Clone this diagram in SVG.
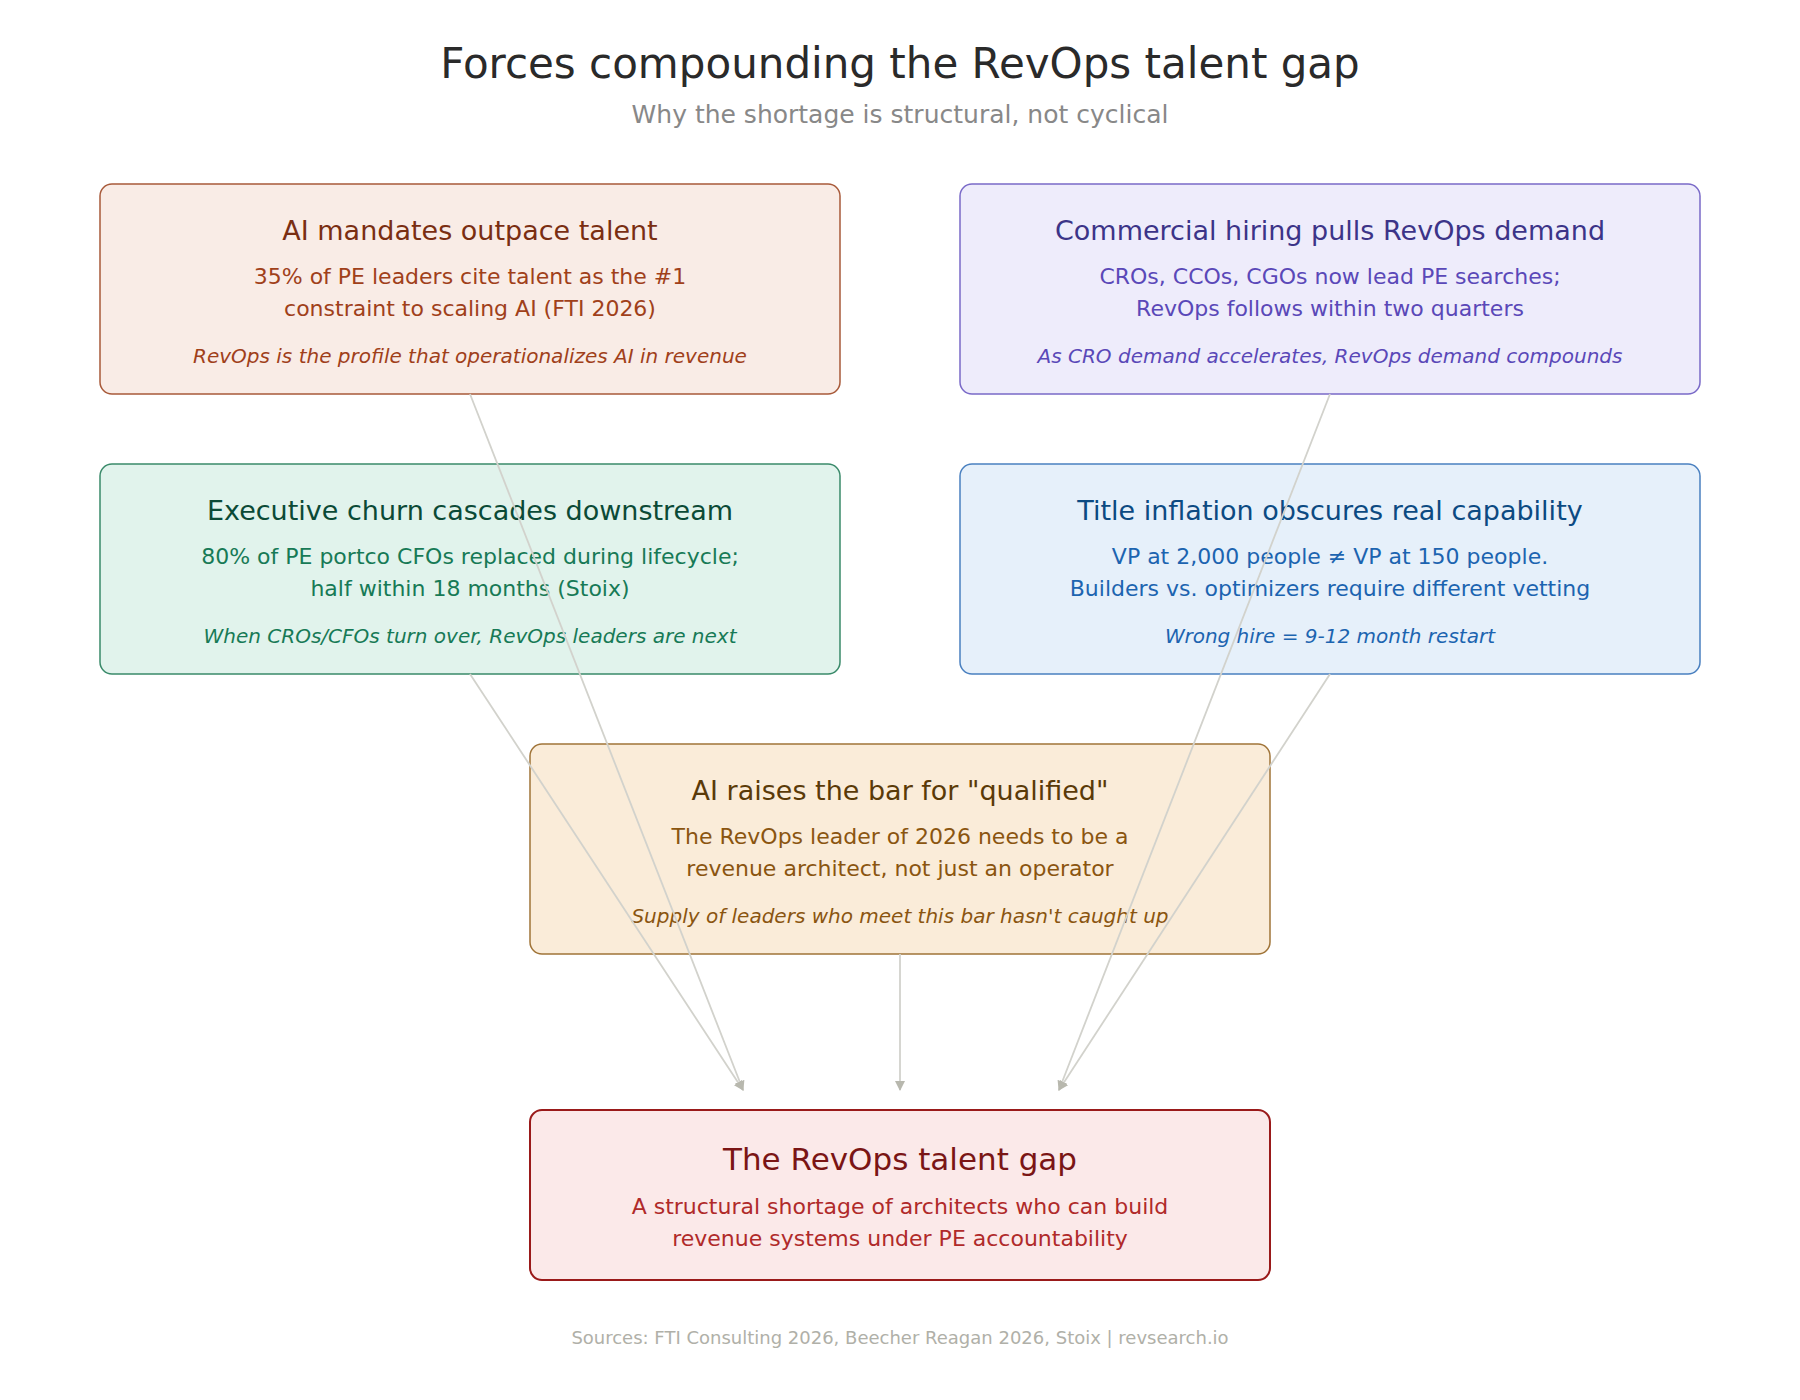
<svg xmlns="http://www.w3.org/2000/svg" width="1800" height="1400" viewBox="0 0 1800 1400">
<defs>
<marker id="ah" markerWidth="10" markerHeight="10" refX="9" refY="5" orient="auto" markerUnits="userSpaceOnUse" viewBox="0 0 10 10"><path d="M0,0 L10,5 L0,10 z" fill="#b8b8ae"/></marker>
<style>
text{font-family:"DejaVu Sans",sans-serif;text-anchor:middle}
.t{font-size:27px}.b{font-size:22px}.i{font-size:20px;font-style:italic}
.c{stroke:#d2d2cc;stroke-width:1.8;fill:none;marker-end:url(#ah)}
</style>
</defs>
<rect width="1800" height="1400" fill="#fff"/>
<text x="900" y="78" font-size="42" fill="#2a2a2a">Forces compounding the RevOps talent gap</text>
<text x="900" y="123" font-size="25" fill="#888">Why the shortage is structural, not cyclical</text>
<g id="n1"><rect x="100" y="184" width="740" height="210" rx="12" fill="#f9ece6" stroke="#a85a3a" stroke-width="1.5"/>
<text class="t" x="470" y="240" fill="#7a2e12">AI mandates outpace talent</text>
<text class="b" x="470" y="284" fill="#a0401a">35% of PE leaders cite talent as the #1</text>
<text class="b" x="470" y="316" fill="#a0401a">constraint to scaling AI (FTI 2026)</text>
<text class="i" x="470" y="363" fill="#a0401a">RevOps is the profile that operationalizes AI in revenue</text></g>
<g id="n2"><rect x="960" y="184" width="740" height="210" rx="12" fill="#eeecfb" stroke="#7a6ac8" stroke-width="1.5"/>
<text class="t" x="1330" y="240" fill="#3c3488">Commercial hiring pulls RevOps demand</text>
<text class="b" x="1330" y="284" fill="#5a48b8">CROs, CCOs, CGOs now lead PE searches;</text>
<text class="b" x="1330" y="316" fill="#5a48b8">RevOps follows within two quarters</text>
<text class="i" x="1330" y="363" fill="#5a48b8">As CRO demand accelerates, RevOps demand compounds</text></g>
<g id="n3"><rect x="100" y="464" width="740" height="210" rx="12" fill="#e1f3ec" stroke="#3a8a6a" stroke-width="1.5"/>
<text class="t" x="470" y="520" fill="#0b4a36">Executive churn cascades downstream</text>
<text class="b" x="470" y="564" fill="#177a56">80% of PE portco CFOs replaced during lifecycle;</text>
<text class="b" x="470" y="596" fill="#177a56">half within 18 months (Stoix)</text>
<text class="i" x="470" y="643" fill="#177a56">When CROs/CFOs turn over, RevOps leaders are next</text></g>
<g id="n4"><rect x="960" y="464" width="740" height="210" rx="12" fill="#e6f0fa" stroke="#4a80c0" stroke-width="1.5"/>
<text class="t" x="1330" y="520" fill="#0c4a82">Title inflation obscures real capability</text>
<text class="b" x="1330" y="564" fill="#1c64b0">VP at 2,000 people ≠ VP at 150 people.</text>
<text class="b" x="1330" y="596" fill="#1c64b0">Builders vs. optimizers require different vetting</text>
<text class="i" x="1330" y="643" fill="#1c64b0">Wrong hire = 9-12 month restart</text></g>
<g id="n5"><rect x="530" y="744" width="740" height="210" rx="12" fill="#faecd9" stroke="#a07438" stroke-width="1.5"/>
<text class="t" x="900" y="800" fill="#5a3a08">AI raises the bar for "qualified"</text>
<text class="b" x="900" y="844" fill="#8a5510">The RevOps leader of 2026 needs to be a</text>
<text class="b" x="900" y="876" fill="#8a5510">revenue architect, not just an operator</text>
<text class="i" x="900" y="923" fill="#8a5510">Supply of leaders who meet this bar hasn't caught up</text></g>
<g id="n6"><rect x="530" y="1110" width="740" height="170" rx="12" fill="#fbe9e9" stroke="#9a1a1a" stroke-width="2"/>
<text x="900" y="1170" font-size="31" fill="#7a1515">The RevOps talent gap</text>
<text class="b" x="900" y="1214" fill="#b02a2a">A structural shortage of architects who can build</text>
<text class="b" x="900" y="1246" fill="#b02a2a">revenue systems under PE accountability</text></g>
<g id="connectors">
<path class="c" d="M470,394 L743,1090"/>
<path class="c" d="M1330,394 L1059,1090"/>
<path class="c" d="M470,674 L743,1090"/>
<path class="c" d="M1330,674 L1059,1090"/>
<path class="c" d="M900,954 L900,1090"/>
</g>
<text x="900" y="1344" font-size="18" fill="#b0b0a8">Sources: FTI Consulting 2026, Beecher Reagan 2026, Stoix | revsearch.io</text>
</svg>
